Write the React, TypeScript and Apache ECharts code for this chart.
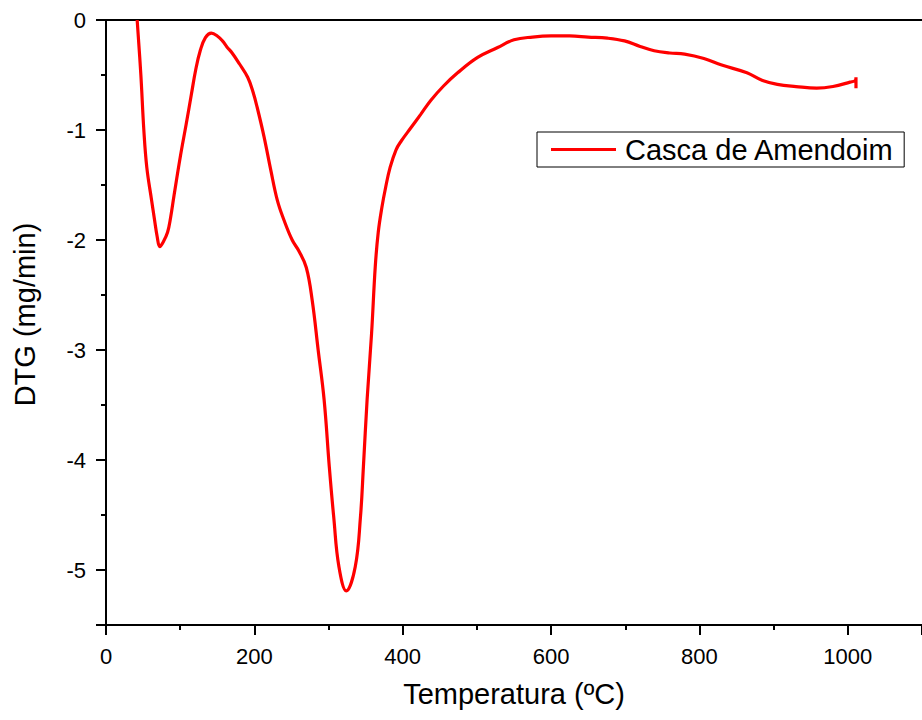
import React, { useEffect, useRef } from "react";
import * as echarts from "echarts";

const seriesName = "Casca de Amendoim";
const xAxisName = "Temperatura (ºC)";
const yAxisName = "DTG (mg/min)";

const temperature = [
  42, 47, 51, 55, 61.5, 65.5, 69, 72.5, 77, 83, 87, 91.6, 100, 108, 115, 121, 127, 134, 142,
  150, 157, 163, 170, 180, 191, 198, 204, 213, 222, 231, 240, 251, 260, 270, 278, 286, 294,
  301, 307, 314, 324, 336, 343, 347, 352, 358, 363, 367, 372, 377, 383, 391, 398, 411, 424,
  438, 455, 474, 501, 528, 550, 575, 600, 625, 650, 676, 699, 720, 739, 760, 780, 806, 830,
  864, 885, 905, 930, 958, 980, 1003, 1010, 1011, 1011,
];
const dtg = [
  0.0, -0.5, -1.0, -1.34, -1.64, -1.82, -1.97, -2.06, -2.02, -1.93, -1.8, -1.6, -1.25, -0.95, -0.68, -0.45, -0.28, -0.16, -0.12,
  -0.145, -0.19, -0.245, -0.3, -0.4, -0.52, -0.65, -0.8, -1.06, -1.36, -1.64, -1.82, -2.0, -2.1, -2.25, -2.55, -3.0, -3.45,
  -4.06, -4.52, -4.97, -5.19, -4.97, -4.52, -4.06, -3.45, -2.85, -2.24, -1.93, -1.7, -1.52, -1.34, -1.18, -1.1, -0.98, -0.86,
  -0.73, -0.6, -0.48, -0.34, -0.25, -0.18, -0.155, -0.145, -0.145, -0.155, -0.165, -0.19, -0.24, -0.28, -0.3, -0.31, -0.35, -0.41,
  -0.48, -0.55, -0.585, -0.605, -0.62, -0.605, -0.565, -0.55, -0.52, -0.62,
];

const xTicks = [0, 200, 400, 600, 800, 1000];

const FONT = "'Liberation Sans', Arial, sans-serif";

export default function App() {
  const ref = useRef<HTMLDivElement>(null);

  useEffect(() => {
    if (!ref.current) return;
    const chart = echarts.init(ref.current, undefined, { renderer: "svg" });
    const data = temperature.map((t, i) => [t, dtg[i]]);
    chart.setOption({
      animation: false,
      backgroundColor: "#ffffff",
      textStyle: { fontFamily: FONT },
      grid: { left: 106, top: 20, right: -5, bottom: 95, containLabel: false },
      legend: {
        data: [{ name: seriesName, icon: "rect" }],
        left: 537,
        top: 132,
        orient: "horizontal",
        itemWidth: 65,
        itemHeight: 3,
        padding: [3, 10, 3, 14],
        borderColor: "#000",
        borderWidth: 1,
        borderRadius: 0,
        itemStyle: { color: "#ff0000" },
        textStyle: { fontFamily: FONT, fontSize: 29, color: "#000", padding: [0, 0, 0, 4] },
      },
      xAxis: [
        {
          type: "value",
          min: 0,
          max: 1100,
          interval: 200,
          position: "bottom",
          name: xAxisName,
          nameLocation: "middle",
          nameGap: 54,
          nameTextStyle: { fontFamily: FONT, fontSize: 29, color: "#000" },
          axisLine: { show: true, onZero: false, lineStyle: { color: "#000", width: 2 } },
          axisTick: { show: true, inside: false, length: 10, lineStyle: { color: "#000", width: 2 } },
          minorTick: { show: true, splitNumber: 2, length: 5, lineStyle: { color: "#000", width: 2 } },
          axisLabel: {
            show: true,
            margin: 20,
            fontFamily: FONT,
            fontSize: 22,
            color: "#000",
            showMaxLabel: false,
            formatter: (v: number) => (xTicks.includes(v) ? String(v) : ""),
          },
          splitLine: { show: false },
          minorSplitLine: { show: false },
        },
        {
          type: "value",
          min: 0,
          max: 1100,
          position: "top",
          axisLine: { show: true, onZero: false, lineStyle: { color: "#000", width: 2 } },
          axisTick: { show: false },
          axisLabel: { show: false },
          splitLine: { show: false },
        },
      ],
      yAxis: {
        type: "value",
        min: -5.5,
        max: 0,
        splitNumber: 5,
        name: yAxisName,
        nameLocation: "middle",
        nameGap: 67,
        nameTextStyle: { fontFamily: FONT, fontSize: 29, color: "#000", padding: [0, 0, 0, 16] },
        axisLine: { show: true, onZero: false, lineStyle: { color: "#000", width: 2 } },
        axisTick: { show: true, inside: false, length: 10, lineStyle: { color: "#000", width: 2 } },
        minorTick: { show: true, splitNumber: 2, length: 5, lineStyle: { color: "#000", width: 2 } },
        axisLabel: {
          show: true,
          margin: 20,
          fontFamily: FONT,
          fontSize: 22,
          color: "#000",
          showMinLabel: false,
          formatter: (v: number) => (Number.isInteger(v) ? String(v) : ""),
        },
        splitLine: { show: false },
        minorSplitLine: { show: false },
      },
      series: [
        {
          name: seriesName,
          type: "line",
          data,
          xAxisIndex: 0,
          showSymbol: false,
          symbol: "none",
          smooth: 0.4,
          clip: true,
          lineStyle: { color: "#ff0000", width: 3.2 },
          itemStyle: { color: "#ff0000" },
        },
      ],
    });
    return () => chart.dispose();
  }, []);

  return (
    <div
      ref={ref}
      style={{ position: "fixed", left: 0, top: 0, width: 922, height: 720, background: "#fff" }}
    />
  );
}
